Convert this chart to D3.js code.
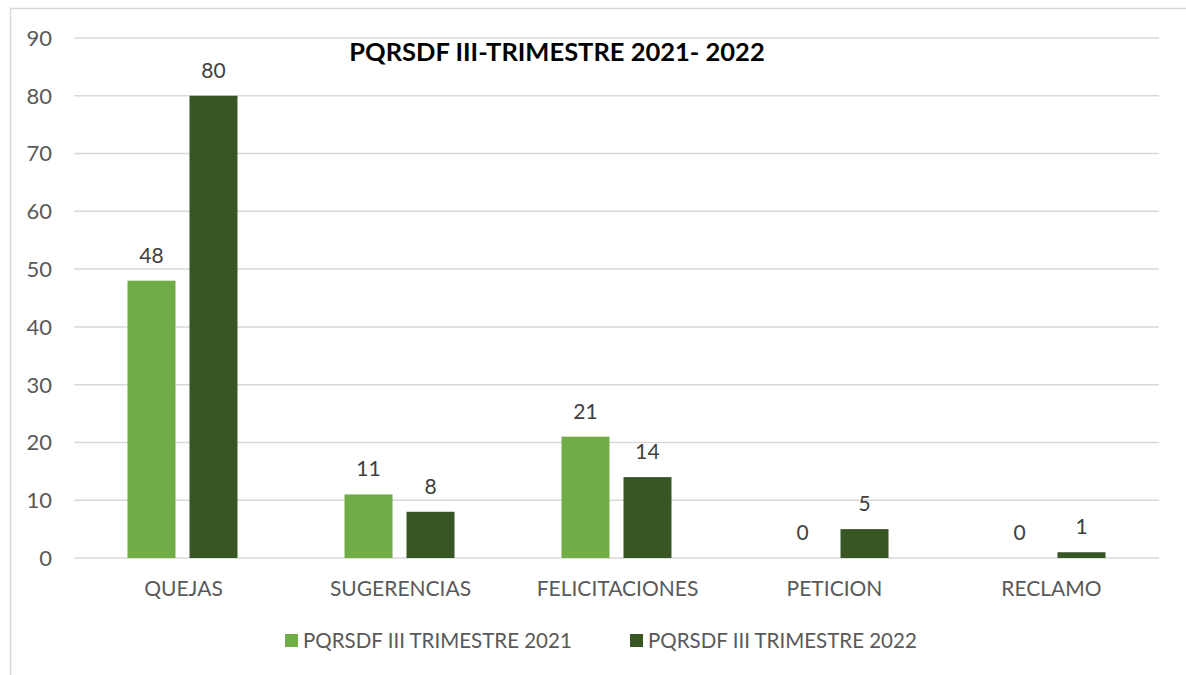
<!DOCTYPE html>
<html>
<head>
<meta charset="utf-8">
<script src="https://d3js.org/d3.v7.min.js"></script>
<style>
  body { margin: 0; background: #fff; }
  svg { font-family: Lato, "Open Sans", sans-serif; }
</style>
</head>
<body>
<svg id="chart" width="1186" height="675"></svg>
<script>
var categories = ["QUEJAS", "SUGERENCIAS", "FELICITACIONES", "PETICION", "RECLAMO"];
var seriesNames = ["PQRSDF III TRIMESTRE 2021", "PQRSDF III TRIMESTRE 2022"];
var values2021 = [48, 11, 21, 0, 0];
var values2022 = [80, 8, 14, 5, 1];
var yTicks = [0, 10, 20, 30, 40, 50, 60, 70, 80, 90];
var colors = ["#70AD47", "#375623"];

var width = 1186, height = 675;
var margin = {left: 74, right: 27, top: 38, bottom: 117};

var svg = d3.select("#chart");

// outer frame (left + top edges visible)
svg.append("path")
  .attr("d", "M10.5,675 L10.5,8.5 L1186,8.5")
  .attr("fill", "none")
  .attr("stroke", "#d9d9d9")
  .attr("stroke-width", 1.5);

var x = d3.scaleBand()
  .domain(categories)
  .range([margin.left, width - margin.right]);

var y = d3.scaleLinear()
  .domain([0, 90])
  .range([height - margin.bottom, margin.top]);

// gridlines
svg.append("g")
  .selectAll("line")
  .data(yTicks)
  .enter().append("line")
    .attr("x1", margin.left)
    .attr("x2", width - margin.right)
    .attr("y1", function(d) { return y(d); })
    .attr("y2", function(d) { return y(d); })
    .attr("stroke", "#d9d9d9")
    .attr("stroke-width", 1.5);

// y tick labels
svg.append("g")
  .selectAll("text")
  .data(yTicks)
  .enter().append("text")
    .attr("x", 52)
    .attr("y", function(d) { return y(d); })
    .attr("dy", "0.36em")
    .attr("text-anchor", "end")
    .attr("fill", "#595959")
    .style("font-size", "22px")
    .text(function(d) { return d; });

var barW = 48, gap = 14;
var series = [values2021, values2022];

series.forEach(function(vals, s) {
  var offset = s === 0 ? -(gap / 2 + barW) : gap / 2;
  var g = svg.append("g");
  g.selectAll("rect")
    .data(vals)
    .enter().append("rect")
      .attr("x", function(d, i) { return x(categories[i]) + x.bandwidth() / 2 + offset; })
      .attr("y", function(d) { return y(d); })
      .attr("width", barW)
      .attr("height", function(d) { return y(0) - y(d); })
      .attr("fill", colors[s]);

  g.selectAll("text")
    .data(vals)
    .enter().append("text")
      .attr("x", function(d, i) { return x(categories[i]) + x.bandwidth() / 2 + offset + barW / 2; })
      .attr("y", function(d) { return y(d) - 18; })
      .attr("text-anchor", "middle")
      .attr("fill", "#404040")
      .style("font-size", "21px")
      .text(function(d) { return d; });
});

// category labels
svg.append("g")
  .selectAll("text")
  .data(categories)
  .enter().append("text")
    .attr("x", function(d) { return x(d) + x.bandwidth() / 2 + 1; })
    .attr("y", 596)
    .attr("text-anchor", "middle")
    .attr("fill", "#595959")
    .style("font-size", "21px")
    .text(function(d) { return d; });

// title
svg.append("text")
  .attr("x", 557)
  .attr("y", 61)
  .attr("text-anchor", "middle")
  .attr("fill", "#000")
  .style("font-size", "25.5px")
  .style("font-weight", "bold")
  .text("PQRSDF III-TRIMESTRE 2021- 2022");

// legend
var legendX = [285, 630];
var legend = svg.append("g")
  .selectAll("g")
  .data(seriesNames)
  .enter().append("g")
    .attr("transform", function(d, i) { return "translate(" + legendX[i] + ",634)"; });

legend.append("rect")
  .attr("width", 13)
  .attr("height", 13)
  .attr("fill", function(d, i) { return colors[i]; });

legend.append("text")
  .attr("x", 18)
  .attr("y", 7)
  .attr("dy", "0.36em")
  .attr("fill", "#595959")
  .style("font-size", "20.5px")
  .text(function(d) { return d; });
</script>
</body>
</html>
